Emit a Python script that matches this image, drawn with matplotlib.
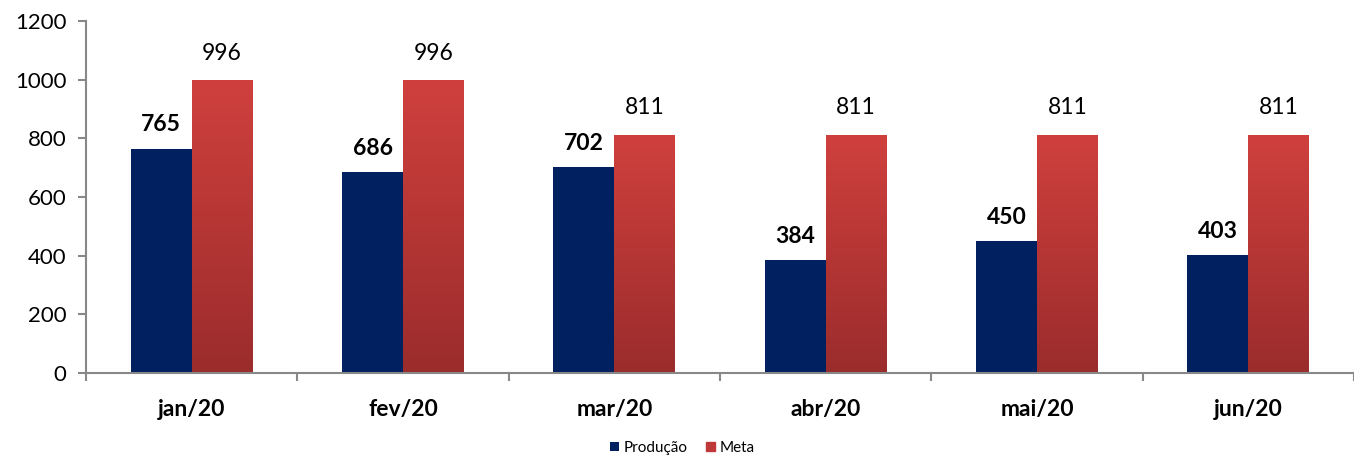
import matplotlib
matplotlib.use("Agg")
import matplotlib.pyplot as plt
import numpy as np
from matplotlib.colors import LinearSegmentedColormap

categories = ["jan/20", "fev/20", "mar/20", "abr/20", "mai/20", "jun/20"]
producao = [765, 686, 702, 384, 450, 403]
meta = [996, 996, 811, 811, 811, 811]
yticks = [0, 200, 400, 600, 800, 1000, 1200]

plt.rcParams['font.family'] = ['Lato', 'DejaVu Sans']

fig = plt.figure(figsize=(13.54, 4.58), dpi=100)
ax = fig.add_axes([86/1354, 85/458, 1268/1354, 352/458])

x = np.arange(len(categories))
w = 0.288
navy = "#002060"
b1 = ax.bar(x - w/2, producao, w, color=navy, zorder=2, label="Produção")
b2 = ax.bar(x + w/2, meta, w, color="#c0393a", zorder=2, label="Meta")

cmap = LinearSegmentedColormap.from_list("g", ["#9b2c2c", "#cf403d"])
grad = np.linspace(0, 1, 256).reshape(-1, 1)
for p in b2:
    x0, y0, bw, bh = p.get_x(), p.get_y(), p.get_width(), p.get_height()
    ax.imshow(grad, extent=[x0, x0 + bw, y0, y0 + bh], origin="lower",
              cmap=cmap, aspect="auto", zorder=2.1, interpolation="bicubic")

for p, v in zip(b1, producao):
    ax.annotate(f"{v}", (p.get_x() + p.get_width()/2, v), xytext=(0, 17),
                textcoords="offset points", ha="center", va="center",
                fontsize=16.5, fontweight="bold", color="black")
for p, v in zip(b2, meta):
    ax.annotate(f"{v}", (p.get_x() + p.get_width()/2, v), xytext=(0, 20),
                textcoords="offset points", ha="center", va="center",
                fontsize=16.5, color="black")

ax.set_xlim(-0.5, -0.5 + 5.93)
ax.set_ylim(0, 1200)
ax.set_yticks(yticks)
ax.set_yticklabels([str(t) for t in yticks], fontsize=16)
ax.set_xticks(x)
ax.set_xticklabels(categories, fontsize=16.5, fontweight="bold")
ax.set_xticks(np.arange(-0.5, len(categories), 1), minor=True)
ax.tick_params(axis="x", which="major", length=0, pad=19)
ax.tick_params(axis="x", which="minor", length=6, color="#888888", width=1.5, direction="out")
ax.tick_params(axis="y", length=6, color="#888888", width=1.5, direction="out", pad=8)

for s in ["top", "right"]:
    ax.spines[s].set_visible(False)
for s in ["left", "bottom"]:
    ax.spines[s].set_color("#888888")
    ax.spines[s].set_linewidth(1.5)

leg = fig.legend(handles=[b1, b2], labels=["Produção", "Meta"], loc="center",
                 bbox_to_anchor=(682/1354, 1 - 448/458), ncol=2, frameon=False,
                 fontsize=11, handlelength=0.6, handleheight=0.6, handletextpad=0.3,
                 columnspacing=1.2)
leg.legend_handles[1].set_color("#c0393a")

fig.savefig("out.png", dpi=100)
